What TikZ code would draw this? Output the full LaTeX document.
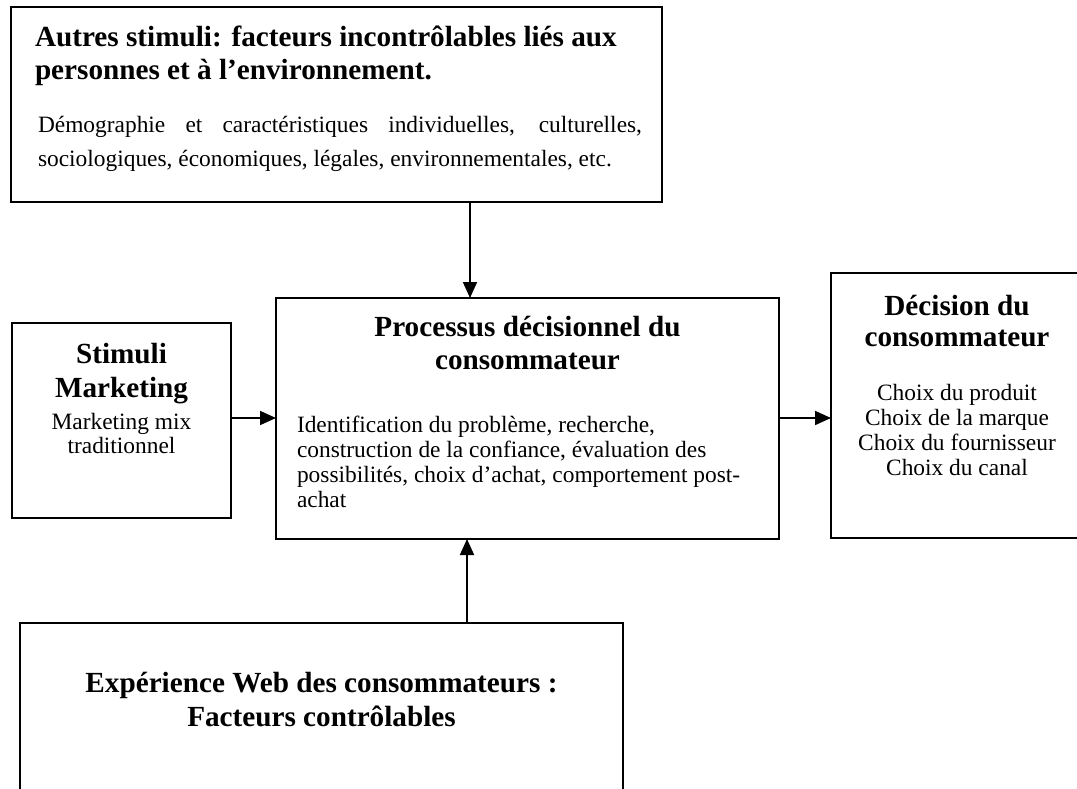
\documentclass[tikz,border=0pt]{standalone}
\usepackage{fontspec}
\setmainfont{Liberation Serif}
\usetikzlibrary{arrows.meta}
\tikzset{
  box/.style={draw, line width=1.5pt, inner sep=0pt, outer sep=0pt},
  ttl/.style={inner sep=0pt, outer sep=0pt, font=\fontsize{29.2}{34}\selectfont\bfseries},
  txt/.style={inner sep=0pt, outer sep=0pt, font=\fontsize{23.4}{27}\selectfont},
  arr/.style={line width=1.8pt, -{Triangle[length=16pt,width=14pt]}},
}
\begin{document}
\begin{tikzpicture}[x=1pt,y=-1pt]
\useasboundingbox (0,0) rectangle (1077,789);
% boxes
\node[box, minimum width=651pt, minimum height=195pt] (top) at (336.5,104.5) {};
\node[box, minimum width=219pt, minimum height=195pt] (left) at (121.5,420.5) {};
\node[box, minimum width=503pt, minimum height=241pt] (main) at (527.5,418.5) {};
\node[box, minimum width=252pt, minimum height=265pt] (right) at (957,405.5) {};
\node[box, minimum width=603pt, minimum height=200pt] (bottom) at (321.5,723) {};
% top box text
\node[ttl, anchor=base west] (t1) at (35,47) {Autres stimuli: facteurs incontrôlables liés aux};
\node[ttl, anchor=base west] (t2) at (35,80) {personnes et à l’environnement.};
\node[txt, anchor=base west] (t3) at (38,133) {\makebox[604pt][s]{Démographie et caractéristiques individuelles, culturelles,}};
\node[txt, anchor=base west] (t4) at (38,167) {sociologiques, économiques, légales, environnementales, etc.};
% left box text
\node[ttl, anchor=base] (l1) at (121.5,363) {Stimuli};
\node[ttl, anchor=base] (l2) at (121.5,397) {Marketing};
\node[txt, anchor=base] (l3) at (121.5,429) {Marketing mix};
\node[txt, anchor=base] (l4) at (121.5,453) {traditionnel};
% main box text
\node[ttl, anchor=base] (m1) at (527.5,336) {Processus décisionnel du};
\node[ttl, anchor=base] (m2) at (527.5,369) {consommateur};
\node[txt, anchor=base west] (m3) at (297,432) {Identification du problème, recherche,};
\node[txt, anchor=base west] (m4) at (297,457) {construction de la confiance, évaluation des};
\node[txt, anchor=base west] (m5) at (297,482) {possibilités, choix d’achat, comportement post-};
\node[txt, anchor=base west] (m6) at (297,507) {achat};
% right box text
\node[ttl, anchor=base] (r1) at (957,315) {Décision du};
\node[ttl, anchor=base] (r2) at (957,346) {consommateur};
\node[txt, anchor=base] (r3) at (957,400) {Choix du produit};
\node[txt, anchor=base] (r4) at (957,425) {Choix de la marque};
\node[txt, anchor=base] (r5) at (957,450) {Choix du fournisseur};
\node[txt, anchor=base] (r6) at (957,475) {Choix du canal};
% bottom box text
\node[ttl, anchor=base] (b1) at (321.5,692) {Expérience Web des consommateurs :};
\node[ttl, anchor=base] (b2) at (321.5,726) {Facteurs contrôlables};
% connectors
\coordinate (ax) at (470,0);
\coordinate (bx) at (467,0);
\coordinate (ay) at (0,418);
\draw[arr] (top.south -| ax) -- (main.north -| ax);
\draw[arr] (bottom.north -| bx) -- (main.south -| bx);
\draw[arr] (left.east |- ay) -- (main.west |- ay);
\draw[arr] (main.east |- ay) -- (right.west |- ay);
\end{tikzpicture}
\end{document}
